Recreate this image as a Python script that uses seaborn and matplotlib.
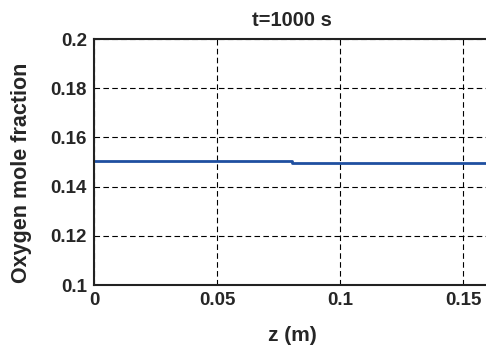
import numpy as np
import pandas as pd
import matplotlib
matplotlib.use("Agg")
import matplotlib.pyplot as plt
import seaborn as sns

z = [0.0, 0.0805, 0.0805, 0.161]
o2 = [0.1505, 0.1505, 0.1497, 0.1497]
xticks = [0, 0.05, 0.1, 0.15]
xticklabels = ["0", "0.05", "0.1", "0.15"]
yticks = [0.1, 0.12, 0.14, 0.16, 0.18, 0.2]
yticklabels = ["0.1", "0.12", "0.14", "0.16", "0.18", "0.2"]

sns.set_style("white")
plt.rcParams['font.family'] = ['Liberation Sans', 'DejaVu Sans']
plt.rcParams['font.weight'] = 'bold'

fig = plt.figure(figsize=(4.86, 3.5), dpi=100)
ax = fig.add_axes([94/486, 1 - 285/350, (486 - 94)/486 + 0.01, (285 - 39)/350])

df = pd.DataFrame({"z": z, "o2": o2})
sns.lineplot(data=df, x="z", y="o2", ax=ax, color="#1f4fa0", linewidth=2, sort=False, estimator=None)

ax.set_xlim(0, 0.1612)
ax.set_ylim(0.1, 0.2)
ax.set_xticks(xticks)
ax.set_xticklabels(xticklabels, fontsize=13.5, fontweight='bold')
ax.set_yticks(yticks)
ax.set_yticklabels(yticklabels, fontsize=13.5, fontweight='bold')
ax.grid(True, color='black', linestyle=(0, (5, 3)), linewidth=0.8)
ax.tick_params(length=0, pad=5)
for s in ax.spines.values():
    s.set_color('#222222')
    s.set_linewidth(1.5)
ax.spines['right'].set_visible(False)

ax.set_xlabel("z (m)", fontsize=15, fontweight='bold', labelpad=12)
ax.set_ylabel("Oxygen mole fraction", fontsize=15.5, fontweight='bold')
ax.yaxis.set_label_coords(-0.157, 0.455)
ax.set_title("t=1000 s", fontsize=14.5, fontweight='bold', pad=9)

fig.savefig("out.png", dpi=100)
